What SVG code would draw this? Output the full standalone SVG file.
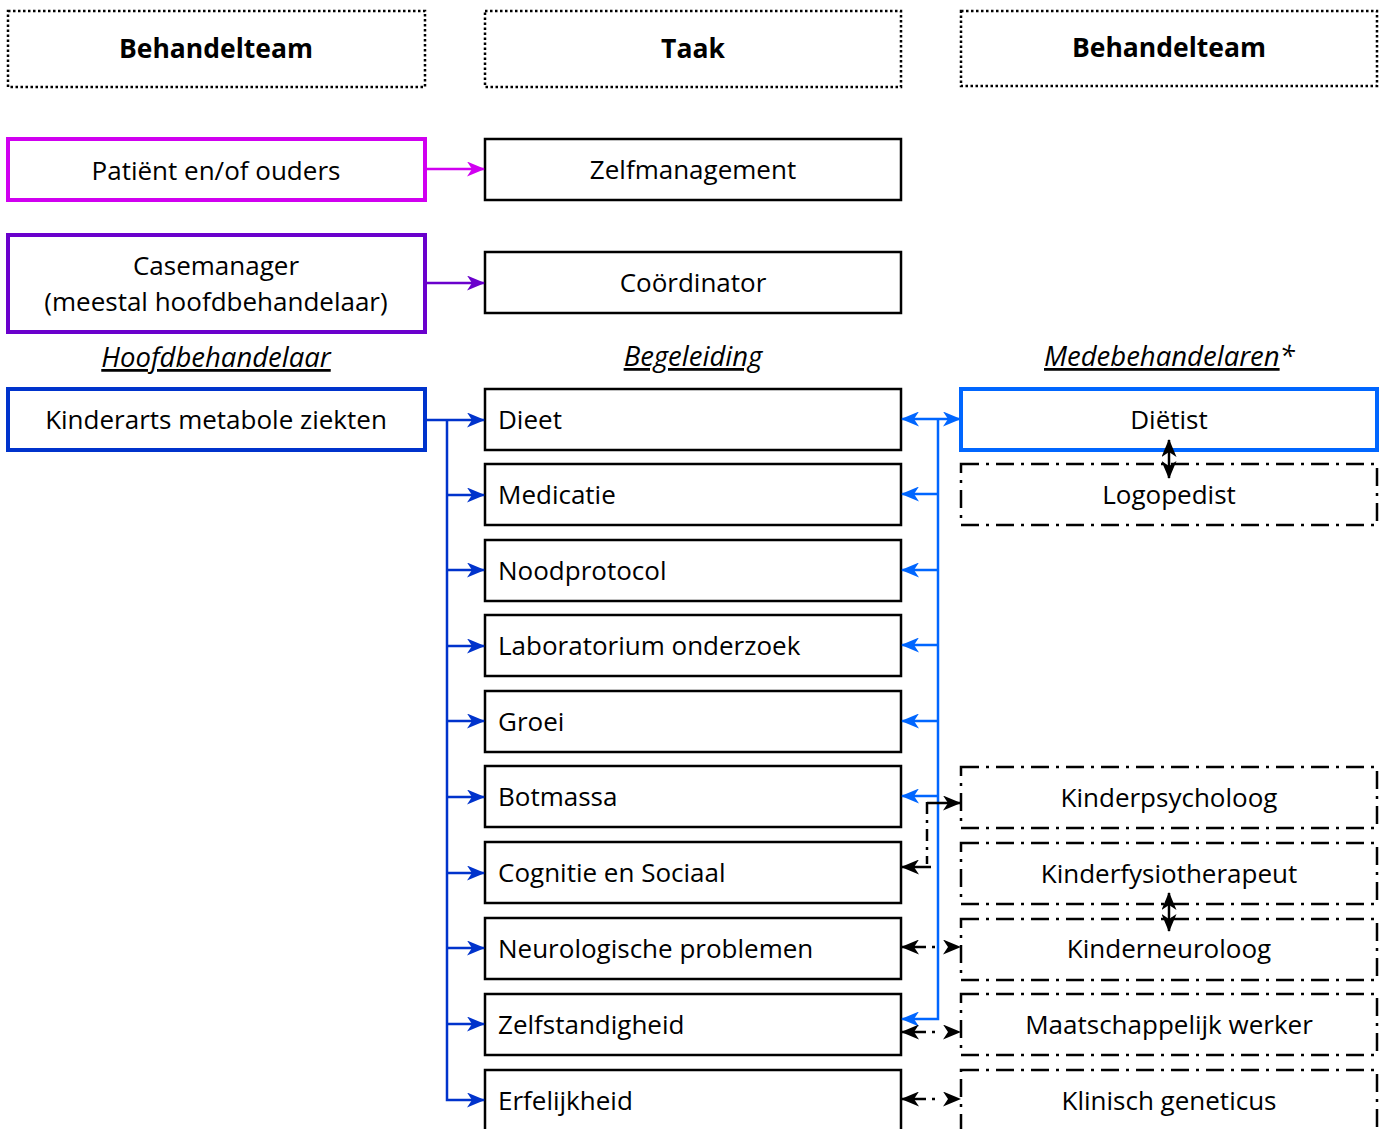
<svg xmlns="http://www.w3.org/2000/svg" width="1387" height="1129" viewBox="0 0 1387 1129">
<defs>
<style>
text{font-family:"Open Sans","Liberation Sans",sans-serif;font-size:26px;fill:#000}
.c{text-anchor:middle}
.h{font-weight:bold;font-size:26.5px}
.lab{font-style:italic;font-size:27.5px}
.u{text-decoration:underline}
.hdr{fill:#fff;stroke:#000;stroke-width:2.5;stroke-dasharray:2.5 2.5}
.task{fill:#fff;stroke:#000;stroke-width:2.5}
.dd{fill:#fff;stroke:#000;stroke-width:2.5;stroke-dasharray:18 7 3 7}
.b3{fill:#fff;stroke-width:4}
.cl{fill:none;stroke-width:2.5}
.dk{stroke:#0033cc}
.lt{stroke:#0066ff}
.bk{stroke:#000}
</style>
<marker id="aMag" viewBox="0 0 18 15" refX="17" refY="7.5" markerWidth="18" markerHeight="15" markerUnits="userSpaceOnUse" orient="auto"><path d="M0,0 L18,7.5 L0,15 L5,7.5 Z" fill="#d000f0"/></marker>
<marker id="aPur" viewBox="0 0 18 15" refX="17" refY="7.5" markerWidth="18" markerHeight="15" markerUnits="userSpaceOnUse" orient="auto"><path d="M0,0 L18,7.5 L0,15 L5,7.5 Z" fill="#6a00cc"/></marker>
<marker id="aDk" viewBox="0 0 18 15" refX="17" refY="7.5" markerWidth="18" markerHeight="15" markerUnits="userSpaceOnUse" orient="auto"><path d="M0,0 L18,7.5 L0,15 L5,7.5 Z" fill="#0033cc"/></marker>
<marker id="aLt" viewBox="0 0 18 15" refX="17" refY="7.5" markerWidth="18" markerHeight="15" markerUnits="userSpaceOnUse" orient="auto-start-reverse"><path d="M0,0 L18,7.5 L0,15 L5,7.5 Z" fill="#0066ff"/></marker>
<marker id="aBk" viewBox="0 0 18 15" refX="17" refY="7.5" markerWidth="18" markerHeight="15" markerUnits="userSpaceOnUse" orient="auto-start-reverse"><path d="M0,0 L18,7.5 L0,15 L5,7.5 Z" fill="#000"/></marker>
</defs>

<g id="hdr-left"><rect class="hdr" x="8" y="11" width="417" height="76"/><text class="c h" x="216" y="58">Behandelteam</text></g>
<g id="hdr-mid"><rect class="hdr" x="485" y="11" width="416" height="76"/><text class="c h" x="693" y="58">Taak</text></g>
<g id="hdr-right"><rect class="hdr" x="961" y="11" width="416" height="75"/><text class="c h" x="1169" y="57">Behandelteam</text></g>

<g id="patient"><rect class="b3" stroke="#d000f0" x="8" y="139" width="417" height="61"/><text class="c" x="216" y="180">Patiënt en/of ouders</text></g>
<g id="zelfmanagement"><rect class="task" x="485" y="139" width="416" height="61"/><text class="c" x="693" y="179">Zelfmanagement</text></g>
<g id="casemanager"><rect class="b3" stroke="#6a00cc" x="8" y="235" width="417" height="97"/><text class="c" x="216" y="275">Casemanager</text><text class="c" x="216" y="311">(meestal hoofdbehandelaar)</text></g>
<g id="coordinator"><rect class="task" x="485" y="252" width="416" height="61"/><text class="c" x="693" y="292">Coördinator</text></g>

<g id="labels">
<text class="c lab u" x="216" y="367">Hoofdbehandelaar</text>
<text class="c lab u" x="693" y="366">Begeleiding</text>
<text class="lab" x="1044" y="366"><tspan class="u">Medebehandelaren</tspan>*</text>
</g>

<g id="kinderarts"><rect class="b3" stroke="#0033cc" x="8" y="389" width="417" height="61"/><text class="c" x="216" y="429">Kinderarts metabole ziekten</text></g>

<g id="t-dieet"><rect class="task" x="485" y="389" width="416" height="61"/><text x="498" y="429">Dieet</text></g>
<g id="t-medicatie"><rect class="task" x="485" y="464" width="416" height="61"/><text x="498" y="504">Medicatie</text></g>
<g id="t-nood"><rect class="task" x="485" y="540" width="416" height="61"/><text x="498" y="580">Noodprotocol</text></g>
<g id="t-lab"><rect class="task" x="485" y="615" width="416" height="61"/><text x="498" y="655">Laboratorium onderzoek</text></g>
<g id="t-groei"><rect class="task" x="485" y="691" width="416" height="61"/><text x="498" y="731">Groei</text></g>
<g id="t-bot"><rect class="task" x="485" y="766" width="416" height="61"/><text x="498" y="806">Botmassa</text></g>
<g id="t-cog"><rect class="task" x="485" y="842" width="416" height="61"/><text x="498" y="882">Cognitie en Sociaal</text></g>
<g id="t-neuro"><rect class="task" x="485" y="918" width="416" height="61"/><text x="498" y="958">Neurologische problemen</text></g>
<g id="t-zelf"><rect class="task" x="485" y="994" width="416" height="61"/><text x="498" y="1034">Zelfstandigheid</text></g>
<g id="t-erf"><rect class="task" x="485" y="1070" width="416" height="70"/><text x="498" y="1110">Erfelijkheid</text></g>

<g id="dietist"><rect class="b3" stroke="#0066ff" x="961" y="389" width="416" height="61"/><text class="c" x="1169" y="429">Diëtist</text></g>
<g id="logopedist"><rect class="dd" x="961" y="464" width="416" height="61"/><text class="c" x="1169" y="504">Logopedist</text></g>
<g id="kinderpsycholoog"><rect class="dd" x="961" y="767" width="416" height="61"/><text class="c" x="1169" y="807">Kinderpsycholoog</text></g>
<g id="kinderfysio"><rect class="dd" x="961" y="843" width="416" height="61"/><text class="c" x="1169" y="883">Kinderfysiotherapeut</text></g>
<g id="kinderneuroloog"><rect class="dd" x="961" y="919" width="416" height="61"/><text class="c" x="1169" y="958">Kinderneuroloog</text></g>
<g id="maatschappelijk"><rect class="dd" x="961" y="994" width="416" height="61"/><text class="c" x="1169" y="1034">Maatschappelijk werker</text></g>
<g id="klinisch"><rect class="dd" x="961" y="1070" width="416" height="70"/><text class="c" x="1169" y="1110">Klinisch geneticus</text></g>

<g id="connectors">
<line class="cl" stroke="#d000f0" x1="425" y1="169" x2="484" y2="169" marker-end="url(#aMag)"/>
<line class="cl" stroke="#6a00cc" x1="425" y1="283" x2="484" y2="283" marker-end="url(#aPur)"/>
<line class="cl dk" x1="425" y1="420" x2="484" y2="420" marker-end="url(#aDk)"/>
<path class="cl dk" d="M447,420 V1100 H484" marker-end="url(#aDk)"/>
<line class="cl dk" x1="447" y1="495" x2="484" y2="495" marker-end="url(#aDk)"/>
<line class="cl dk" x1="447" y1="570" x2="484" y2="570" marker-end="url(#aDk)"/>
<line class="cl dk" x1="447" y1="646" x2="484" y2="646" marker-end="url(#aDk)"/>
<line class="cl dk" x1="447" y1="721" x2="484" y2="721" marker-end="url(#aDk)"/>
<line class="cl dk" x1="447" y1="797" x2="484" y2="797" marker-end="url(#aDk)"/>
<line class="cl dk" x1="447" y1="873" x2="484" y2="873" marker-end="url(#aDk)"/>
<line class="cl dk" x1="447" y1="948" x2="484" y2="948" marker-end="url(#aDk)"/>
<line class="cl dk" x1="447" y1="1024" x2="484" y2="1024" marker-end="url(#aDk)"/>

<line class="cl lt" x1="902" y1="419" x2="960" y2="419" marker-start="url(#aLt)" marker-end="url(#aLt)"/>
<path class="cl lt" d="M938,419 V1019 H902" marker-end="url(#aLt)"/>
<line class="cl lt" x1="938" y1="494" x2="902" y2="494" marker-end="url(#aLt)"/>
<line class="cl lt" x1="938" y1="570" x2="902" y2="570" marker-end="url(#aLt)"/>
<line class="cl lt" x1="938" y1="645" x2="902" y2="645" marker-end="url(#aLt)"/>
<line class="cl lt" x1="938" y1="721" x2="902" y2="721" marker-end="url(#aLt)"/>
<line class="cl lt" x1="938" y1="796" x2="902" y2="796" marker-end="url(#aLt)"/>

<line class="cl bk" x1="1169" y1="440" x2="1169" y2="478" marker-start="url(#aBk)" marker-end="url(#aBk)"/>
<line class="cl bk" x1="1169" y1="893" x2="1169" y2="931" marker-start="url(#aBk)" marker-end="url(#aBk)"/>
<path class="cl bk" d="M927,803 H960" marker-end="url(#aBk)"/>
<path class="cl bk" d="M927,802 V864" stroke-dasharray="12 6 3 6"/>
<line class="cl bk" x1="931" y1="867" x2="902" y2="867" marker-end="url(#aBk)"/>
<line class="cl bk" x1="902" y1="947" x2="960" y2="947" stroke-dasharray="24 6 3 200" marker-start="url(#aBk)" marker-end="url(#aBk)"/>
<line class="cl bk" x1="902" y1="1032" x2="960" y2="1032" stroke-dasharray="24 6 3 200" marker-start="url(#aBk)" marker-end="url(#aBk)"/>
<line class="cl bk" x1="902" y1="1099" x2="960" y2="1099" stroke-dasharray="24 6 3 200" marker-start="url(#aBk)" marker-end="url(#aBk)"/>
</g>
</svg>
